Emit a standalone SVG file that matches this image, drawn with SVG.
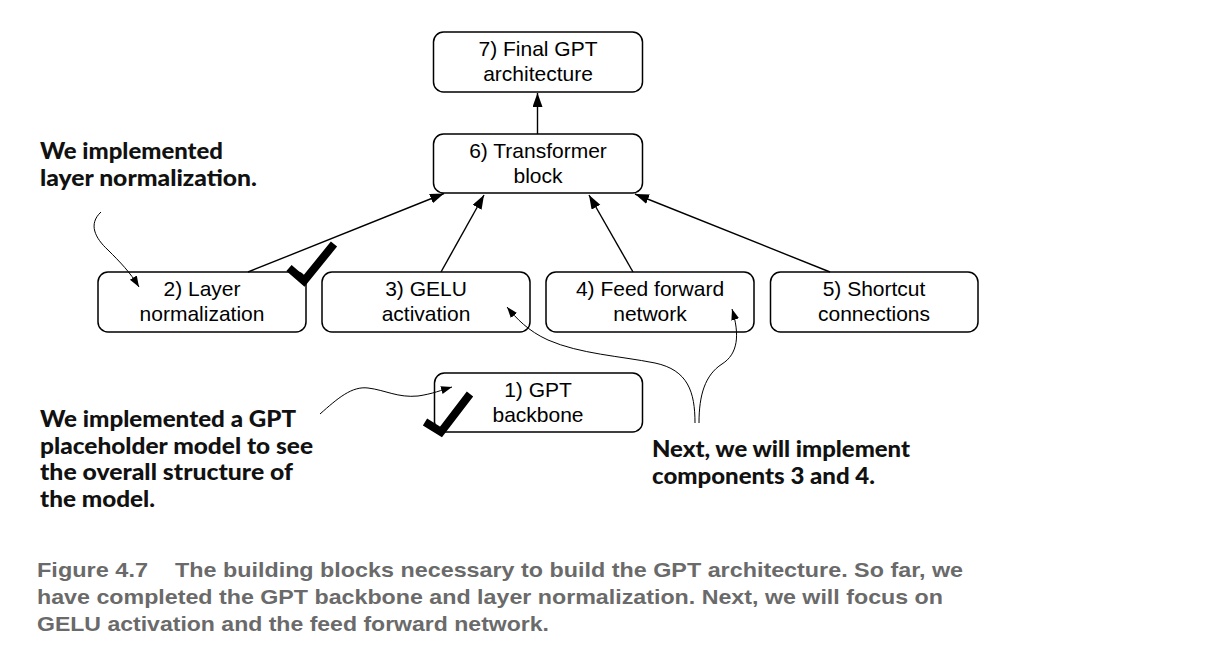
<svg xmlns="http://www.w3.org/2000/svg" width="1208" height="672" viewBox="0 0 1208 672">
  <style>
    .box { fill: #ffffff; stroke: #000000; stroke-width: 1.5; }
    .lbl { font-family: "Liberation Sans", Arial, sans-serif; font-size: 21px; fill: #000000; text-anchor: middle; }
    .edge { fill: none; stroke: #000000; stroke-width: 1.4; }
    .note { fill: none; stroke: #000000; stroke-width: 1; }
    .check { fill: none; stroke: #000000; stroke-width: 8; stroke-linejoin: miter; stroke-linecap: butt; }
    .ann { font-family: "Lato", "Open Sans", sans-serif; font-weight: 900; font-size: 23px; fill: #111111; }
    .cap { font-family: "Liberation Sans", Arial, sans-serif; font-weight: 700; font-size: 21px; fill: #6a6a6a; }
  </style>
  <defs>
    <marker id="arr" markerUnits="userSpaceOnUse" markerWidth="16" markerHeight="12" refX="14" refY="5" orient="auto">
      <path d="M0,0 L14,5 L0,10 Z" fill="#000000"/>
    </marker>
    <marker id="arrs" markerUnits="userSpaceOnUse" markerWidth="12" markerHeight="10" refX="11" refY="4" orient="auto">
      <path d="M0,0 L11,4 L0,8 Z" fill="#000000"/>
    </marker>
  </defs>
  <rect width="1208" height="672" fill="#ffffff"/>

  <g id="node7">
    <rect class="box" x="433.5" y="32" width="209" height="60" rx="10"/>
    <text class="lbl" x="538" y="56">7) Final GPT</text>
    <text class="lbl" x="538" y="81">architecture</text>
  </g>
  <g id="node6">
    <rect class="box" x="433.5" y="134" width="209" height="59" rx="10"/>
    <text class="lbl" x="538" y="158">6) Transformer</text>
    <text class="lbl" x="538" y="183">block</text>
  </g>
  <g id="node2">
    <rect class="box" x="98" y="272" width="208" height="60" rx="10"/>
    <text class="lbl" x="202" y="296">2) Layer</text>
    <text class="lbl" x="202" y="321">normalization</text>
  </g>
  <g id="node3">
    <rect class="box" x="322" y="272" width="208" height="60" rx="10"/>
    <text class="lbl" x="426" y="296">3) GELU</text>
    <text class="lbl" x="426" y="321">activation</text>
  </g>
  <g id="node4">
    <rect class="box" x="546" y="272" width="208" height="60" rx="10"/>
    <text class="lbl" x="650" y="296">4) Feed forward</text>
    <text class="lbl" x="650" y="321">network</text>
  </g>
  <g id="node5">
    <rect class="box" x="770.5" y="272" width="207.5" height="60" rx="10"/>
    <text class="lbl" x="874" y="296">5) Shortcut</text>
    <text class="lbl" x="874" y="321">connections</text>
  </g>
  <g id="node1">
    <rect class="box" x="434.5" y="373" width="208" height="59" rx="10"/>
    <text class="lbl" x="538" y="397">1) GPT</text>
    <text class="lbl" x="538" y="422">backbone</text>
  </g>

  <g id="connectors">
    <line class="edge" x1="537.5" y1="134" x2="537.5" y2="93" marker-end="url(#arr)"/>
    <line class="edge" x1="248" y1="272" x2="444" y2="193.5" marker-end="url(#arr)"/>
    <line class="edge" x1="441" y1="272" x2="484" y2="195" marker-end="url(#arr)"/>
    <line class="edge" x1="633" y1="272" x2="589" y2="195" marker-end="url(#arr)"/>
    <line class="edge" x1="830" y1="272" x2="635" y2="194" marker-end="url(#arr)"/>
    <path class="note" d="M101,212 C88,224 95,238 108,250 C120,262 130,272 139,287" marker-end="url(#arrs)"/>
    <path class="note" d="M320,414 C338,398 352,386 368,388 C385,390 398,398 418,396 C432,394 442,390 452,387" marker-end="url(#arrs)"/>
    <path class="note" d="M695,423 C695,392 688,370 655,363 C620,356 580,354 548,340 C528,331 516,318 507,307" marker-end="url(#arrs)"/>
    <path class="note" d="M699,423 C699,395 705,375 722,364 C738,354 740,335 732,309" marker-end="url(#arrs)"/>
  </g>

  <g id="checkmarks">
    <polyline class="check" points="289,268 304,281 334,244"/>
    <polyline class="check" points="425,422 441,432 470,394"/>
  </g>

  <g id="annotations">
    <text class="ann" x="40" y="159" textLength="183" lengthAdjust="spacingAndGlyphs">We implemented</text>
    <text class="ann" x="40" y="186" textLength="217" lengthAdjust="spacingAndGlyphs">layer normalization.</text>
    <text class="ann" x="40" y="427" textLength="256" lengthAdjust="spacingAndGlyphs">We implemented a GPT</text>
    <text class="ann" x="40" y="453.5" textLength="273" lengthAdjust="spacingAndGlyphs">placeholder model to see</text>
    <text class="ann" x="40" y="480" textLength="253" lengthAdjust="spacingAndGlyphs">the overall structure of</text>
    <text class="ann" x="40" y="506.5" textLength="115" lengthAdjust="spacingAndGlyphs">the model.</text>
    <text class="ann" x="652" y="457" textLength="258" lengthAdjust="spacingAndGlyphs">Next, we will implement</text>
    <text class="ann" x="652" y="483.5" textLength="223" lengthAdjust="spacingAndGlyphs">components 3 and 4.</text>
  </g>

  <g id="caption">
    <text class="cap" x="37" y="577" textLength="111" lengthAdjust="spacingAndGlyphs">Figure 4.7</text>
    <text class="cap" x="175" y="577" textLength="788" lengthAdjust="spacingAndGlyphs">The building blocks necessary to build the GPT architecture. So far, we</text>
    <text class="cap" x="37" y="604" textLength="906" lengthAdjust="spacingAndGlyphs">have completed the GPT backbone and layer normalization. Next, we will focus on</text>
    <text class="cap" x="37" y="631" textLength="512" lengthAdjust="spacingAndGlyphs">GELU activation and the feed forward network.</text>
  </g>
</svg>
